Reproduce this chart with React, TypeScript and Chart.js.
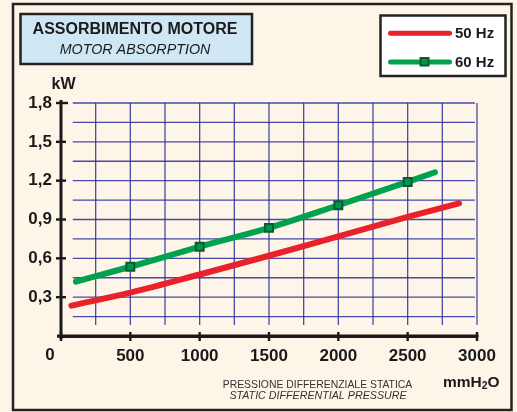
import { useEffect, useRef } from "react";
import { Chart, registerables } from "chart.js";

Chart.register(...registerables);

// ---- data ----
const pressure50 = [75, 500, 1000, 1500, 2000, 2500, 2870];
const kw50 = [0.235, 0.335, 0.475, 0.62, 0.77, 0.92, 1.025];
const pressure60 = [108, 500, 1000, 1500, 2000, 2500, 2697];
const kw60 = [0.42, 0.535, 0.69, 0.835, 1.01, 1.19, 1.265];
const markers60 = [false, true, true, true, true, true, false];
const xTicks = [0, 500, 1000, 1500, 2000, 2500, 3000];
const yTicks = [0, 0.3, 0.6, 0.9, 1.2, 1.5, 1.8];
const xGrid = [250, 500, 750, 1000, 1250, 1500, 1750, 2000, 2250, 2500, 2750, 3000];
const yGrid = [0.15, 0.3, 0.45, 0.6, 0.75, 0.9, 1.05, 1.2, 1.35, 1.5, 1.65, 1.8];
const seriesLabels = ["50 Hz", "60 Hz"];
const seriesColors = ["#e8212b", "#00a14f"];
const titleLines = ["ASSORBIMENTO MOTORE", "MOTOR ABSORPTION"];
const xTitleLines = ["PRESSIONE DIFFERENZIALE STATICA", "STATIC DIFFERENTIAL PRESSURE"];
const yUnit = "kW";

const FONT = "'Liberation Sans', Arial, Helvetica, sans-serif";
const INK = "#1a1a1a";

const decorPlugin = {
  id: "decor",
  beforeDraw(chart: any) {
    const { ctx, width, height } = chart;
    ctx.save();
    ctx.fillStyle = "#fdf5e7";
    ctx.fillRect(0, 0, width, height);
    ctx.restore();
  },
  beforeDatasetsDraw(chart: any) {
    const { ctx } = chart;
    const xs = chart.scales.x;
    const ys = chart.scales.y;
    ctx.save();
    ctx.strokeStyle = "rgba(40,42,160,0.85)";
    ctx.lineWidth = 1.3;
    const gx0 = xs.getPixelForValue(85);
    const gx1 = xs.getPixelForValue(2985);
    yGrid.forEach((v) => {
      const py = ys.getPixelForValue(v);
      ctx.beginPath();
      ctx.moveTo(gx0, py);
      ctx.lineTo(gx1, py);
      ctx.stroke();
    });
    const gy0 = ys.getPixelForValue(1.8);
    const gy1 = ys.getPixelForValue(0.085);
    xGrid.forEach((v) => {
      const px = xs.getPixelForValue(v);
      ctx.beginPath();
      ctx.moveTo(px, gy0);
      ctx.lineTo(px, gy1);
      ctx.stroke();
    });
    ctx.restore();
  },
  afterDraw(chart: any) {
    const { ctx } = chart;
    const xs = chart.scales.x;
    const ys = chart.scales.y;
    const ax = xs.getPixelForValue(0);
    const ay = ys.getPixelForValue(0);
    const axTop = ys.getPixelForValue(1.8) - 3;
    const axRight = xs.getPixelForValue(3000) + 1.5;
    ctx.save();
    // axes
    ctx.fillStyle = INK;
    ctx.fillRect(ax - 1.5, axTop, 3, ay + 3 - axTop);
    ctx.fillRect(ax - 4, ay - 1.5, axRight - (ax - 4), 3.2);
    // tick marks
    yTicks.forEach((v) => {
      if (v === 0) return;
      const py = ys.getPixelForValue(v);
      ctx.fillRect(ax - 5, py - 1.2, v === 1.8 ? 12 : 10, 2.4);
    });
    xTicks.forEach((v) => {
      const px = xs.getPixelForValue(v);
      ctx.fillRect(px - 1.2, ay - 4, 2.4, 9);
    });

    // outer frame
    ctx.strokeStyle = "#222";
    ctx.lineWidth = 2.5;
    ctx.strokeRect(13, 4, 498.5, 406);

    // title box
    ctx.fillStyle = "#cfe7f5";
    ctx.fillRect(20.5, 14, 231.5, 50);
    ctx.strokeStyle = "#222";
    ctx.lineWidth = 2.5;
    ctx.strokeRect(20.5, 14, 231.5, 50);
    ctx.fillStyle = INK;
    ctx.textAlign = "center";
    ctx.textBaseline = "middle";
    ctx.font = `bold 16px ${FONT}`;
    ctx.fillText(titleLines[0], 135, 29.5);
    ctx.font = `italic 14.3px ${FONT}`;
    ctx.fillText(titleLines[1], 135, 50.5);

    // legend box
    ctx.fillStyle = "#ffffff";
    ctx.fillRect(380.5, 15.5, 125, 60.5);
    ctx.strokeRect(380.5, 15.5, 125, 60.5);
    const legY = [33.3, 62];
    seriesLabels.forEach((lab, i) => {
      ctx.strokeStyle = seriesColors[i];
      ctx.lineWidth = 5;
      ctx.lineCap = "round";
      ctx.beginPath();
      ctx.moveTo(390.5, legY[i]);
      ctx.lineTo(449.5, legY[i]);
      ctx.stroke();
      if (i === 1) {
        ctx.fillStyle = "#00974a";
        ctx.strokeStyle = "#0b5a33";
        ctx.lineWidth = 2;
        ctx.fillRect(420.5, 58, 8, 7.5);
        ctx.strokeRect(420.5, 58, 8, 7.5);
      }
      ctx.fillStyle = INK;
      ctx.textAlign = "left";
      ctx.textBaseline = "middle";
      ctx.font = `bold 15px ${FONT}`;
      ctx.fillText(lab, 455, legY[i] + 0.5);
    });

    // y unit
    ctx.fillStyle = INK;
    ctx.textAlign = "center";
    ctx.textBaseline = "middle";
    ctx.font = `bold 16px ${FONT}`;
    ctx.fillText(yUnit, 63.5, 84.5);

    // origin label
    ctx.font = `bold 17px ${FONT}`;
    ctx.fillText("0", ax - 11, ay + 19.5);

    // x axis title
    ctx.fillStyle = "#333";
    ctx.font = `10.4px ${FONT}`;
    ctx.fillText(xTitleLines[0], 317.5, 385.5);
    ctx.font = `italic 10.7px ${FONT}`;
    ctx.fillText(xTitleLines[1], 318, 396.5);

    // unit mmH2O
    ctx.fillStyle = INK;
    ctx.textAlign = "left";
    ctx.font = `bold 15.5px ${FONT}`;
    let ux = 443;
    const uy = 382.5;
    ctx.fillText("mmH", ux, uy);
    ux += ctx.measureText("mmH").width;
    ctx.font = `bold 10.5px ${FONT}`;
    ctx.fillText("2", ux, uy + 4);
    ux += ctx.measureText("2").width;
    ctx.font = `bold 15.5px ${FONT}`;
    ctx.fillText("O", ux, uy);
    ctx.restore();
  },
};

export default function App() {
  const ref = useRef<HTMLCanvasElement | null>(null);
  useEffect(() => {
    document.body.style.margin = "0";
    const canvas = ref.current;
    if (!canvas) return;
    const chart = new Chart(canvas, {
      type: "line",
      data: {
        datasets: [
          {
            label: seriesLabels[0],
            data: pressure50.map((x, i) => ({ x, y: kw50[i] })),
            borderColor: seriesColors[0],
            borderWidth: 6,
            borderCapStyle: "round",
            pointRadius: 0,
            cubicInterpolationMode: "monotone",
          },
          {
            label: seriesLabels[1],
            data: pressure60.map((x, i) => ({ x, y: kw60[i] })),
            borderColor: seriesColors[1],
            borderWidth: 6,
            borderCapStyle: "round",
            pointStyle: "rect",
            pointRadius: markers60.map((m) => (m ? 5.6 : 0)),
            pointBackgroundColor: "#00974a",
            pointBorderColor: "#0b5a33",
            pointBorderWidth: 2,
            cubicInterpolationMode: "monotone",
          },
        ],
      },
      options: {
        animation: false,
        responsive: false,
        devicePixelRatio: 1,
        layout: { padding: { left: 0, top: 103, right: 40, bottom: 0 } },
        plugins: { legend: { display: false }, tooltip: { enabled: false } },
        scales: {
          x: {
            type: "linear",
            min: 0,
            max: 3000,
            grid: { display: false, drawTicks: false },
            border: { display: true, color: INK, width: 3 },
            afterFit: (s: any) => {
              s.height = 76;
            },
            afterBuildTicks: (s: any) => {
              s.ticks = xTicks.map((v) => ({ value: v }));
            },
            ticks: {
              padding: 10,
              color: INK,
              font: { family: FONT, size: 17, weight: "bold" },
              maxRotation: 0,
              autoSkip: false,
              callback: (v: any) => (v === 0 ? "" : String(v)),
            },
          },
          y: {
            type: "linear",
            min: 0,
            max: 1.8,
            grid: { display: false, drawTicks: false },
            border: { display: false },
            afterFit: (s: any) => {
              s.width = 61;
            },
            afterBuildTicks: (s: any) => {
              s.ticks = yTicks.map((v) => ({ value: v }));
            },
            ticks: {
              padding: 9,
              color: INK,
              font: { family: FONT, size: 17, weight: "bold" },
              autoSkip: false,
              callback: (v: any) => (v === 0 ? "" : Number(v).toFixed(1).replace(".", ",")),
            },
          },
        },
      },
      plugins: [decorPlugin],
    } as any);
    return () => chart.destroy();
  }, []);
  return <canvas ref={ref} width={517} height={412} style={{ display: "block" }} />;
}
